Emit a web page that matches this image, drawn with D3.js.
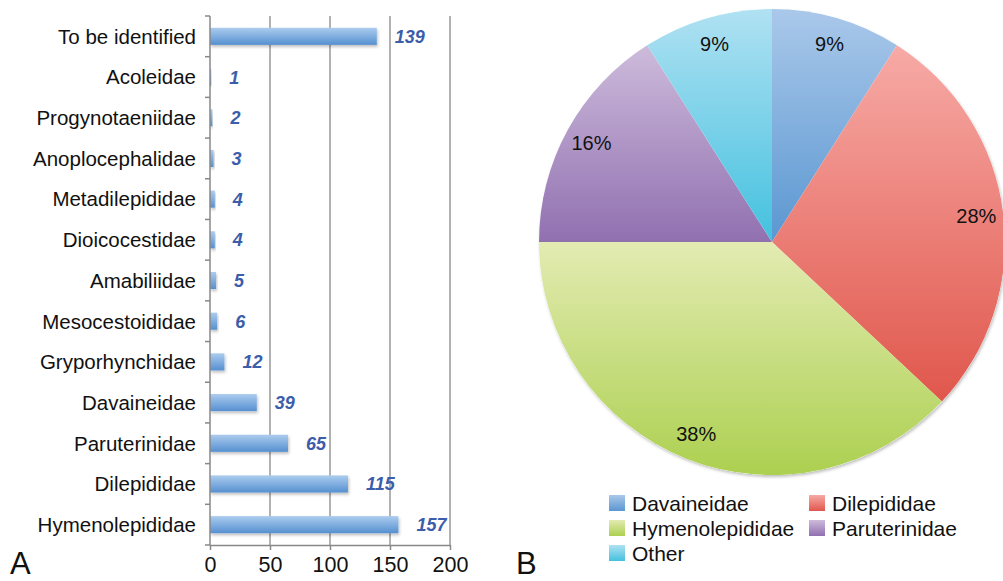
<!DOCTYPE html>
<html>
  <head>
    <style>
      body {
        margin: 0;
        background: #fff;
        font-family: "Liberation Sans", Arial, sans-serif;
      }
      svg text { fill: #111; }
      .grid line { stroke: #999; stroke-width: 1.5px; }
      .value-label { fill: #3c5daa !important; font-weight: bold; font-style: italic; font-size: 18px; }
    </style>
  </head>
  <body>
    <svg width="1003" height="581"></svg>
    <script src="https://d3js.org/d3.v7.min.js"></script>
    <script>
    // bar chart data (panel A)
    var families = ["To be identified", "Acoleidae", "Progynotaeniidae", "Anoplocephalidae",
      "Metadilepididae", "Dioicocestidae", "Amabiliidae", "Mesocestoididae",
      "Gryporhynchidae", "Davaineidae", "Paruterinidae", "Dilepididae", "Hymenolepididae"];
    var counts = [139, 1, 2, 3, 4, 4, 5, 6, 12, 39, 65, 115, 157];
    var x_ticks = [0, 50, 100, 150, 200];

    // pie chart data (panel B)
    var pie_names = ["Davaineidae", "Dilepididae", "Hymenolepididae", "Paruterinidae", "Other"];
    var pie_share = [9, 28, 38, 16, 9];
    var pie_top = ["#aac8ea", "#f7aaa6", "#e3ebb2", "#cdbbdb", "#b0e1f2"];
    var pie_bottom = ["#5a97d1", "#e0574c", "#acd050", "#9170b0", "#43c1df"];

    var svg = d3.select("svg");
    var defs = svg.append("defs");

    // gradients
    var barGrad = defs.append("linearGradient").attr("id", "barGrad")
        .attr("x1", 0).attr("y1", 0).attr("x2", 0).attr("y2", 1);
    barGrad.append("stop").attr("offset", "0%").attr("stop-color", "#acccef");
    barGrad.append("stop").attr("offset", "100%").attr("stop-color", "#5590d0");

    pie_names.forEach(function(n, i) {
      var g = defs.append("linearGradient").attr("id", "pg" + i)
          .attr("gradientUnits", "userSpaceOnUse")
          .attr("x1", 0).attr("y1", -233).attr("x2", 0).attr("y2", 233);
      g.append("stop").attr("offset", "0%").attr("stop-color", pie_top[i]);
      g.append("stop").attr("offset", "100%").attr("stop-color", pie_bottom[i]);
      var lg = defs.append("linearGradient").attr("id", "lg" + i)
          .attr("x1", 0).attr("y1", 0).attr("x2", 0).attr("y2", 1);
      lg.append("stop").attr("offset", "0%").attr("stop-color", pie_top[i]);
      lg.append("stop").attr("offset", "100%").attr("stop-color", pie_bottom[i]);
    });

    var shadow = defs.append("filter").attr("id", "shadow")
        .attr("x", "-10%").attr("y", "-10%").attr("width", "130%").attr("height", "160%");
    shadow.append("feDropShadow").attr("dx", 1).attr("dy", 2).attr("stdDeviation", 1.5)
        .attr("flood-color", "#000").attr("flood-opacity", 0.25);

    // ---------- Panel A ----------
    var margin = {left: 210, top: 16};
    var w = 240, h = 529;
    var x = d3.scaleLinear().domain([0, 200]).range([0, w]);
    var y = d3.scaleBand().domain(families).range([0, h]).paddingInner(0.58).paddingOuter(0.29);
    var yb = d3.scaleBand().domain(families).range([0, h]);

    var gA = svg.append("g").attr("transform", "translate(" + [margin.left, margin.top] + ")");

    gA.append("g").attr("class", "grid")
      .selectAll("line").data(x_ticks.slice(1)).enter().append("line")
        .attr("x1", d => x(d)).attr("x2", d => x(d))
        .attr("y1", 0).attr("y2", h);

    gA.selectAll(".bar").data(families).enter().append("rect")
        .attr("class", "bar")
        .attr("x", 0)
        .attr("y", d => y(d))
        .attr("width", (d, i) => x(counts[i]))
        .attr("height", y.bandwidth())
        .attr("fill", "url(#barGrad)")
        .attr("filter", "url(#shadow)");

    gA.selectAll(".value-label").data(families).enter().append("text")
        .attr("class", "value-label")
        .attr("x", (d, i) => x(counts[i]) + 18)
        .attr("y", d => y(d) + y.bandwidth() / 2)
        .attr("dy", "0.36em")
        .text((d, i) => counts[i]);

    // category labels
    gA.selectAll(".cat").data(families).enter().append("text")
        .attr("class", "cat")
        .attr("x", -14)
        .attr("y", d => y(d) + y.bandwidth() / 2)
        .attr("dy", "0.36em")
        .attr("text-anchor", "end")
        .style("font-size", "20.5px")
        .text(d => d);

    // y axis line with ticks between categories
    gA.append("line").attr("x1", 0).attr("x2", 0).attr("y1", 0).attr("y2", h)
        .attr("stroke", "#888").attr("stroke-width", 1.5);
    gA.selectAll(".ytick").data(families.concat(["end"])).enter().append("line")
        .attr("x1", -5).attr("x2", 0)
        .attr("y1", (d, i) => i * yb.step()).attr("y2", (d, i) => i * yb.step())
        .attr("stroke", "#888").attr("stroke-width", 1.5);

    // x axis
    var xAxis = gA.append("g").attr("transform", "translate(0," + h + ")")
        .call(d3.axisBottom(x).tickValues(x_ticks).tickSize(5).tickSizeOuter(0));
    xAxis.select(".domain").attr("stroke", "#888").attr("stroke-width", 1.5);
    xAxis.selectAll(".tick line").attr("stroke", "#888").attr("stroke-width", 1.5);
    xAxis.selectAll("text").attr("fill", "#111").style("font-size", "21.5px")
        .style("font-family", "'Liberation Sans', Arial, sans-serif")
        .attr("y", 27).attr("dy", 0);

    // panel letters
    svg.append("text").attr("x", 10).attr("y", 574).style("font-size", "31px").text("A");
    svg.append("text").attr("x", 516).attr("y", 574).style("font-size", "31px").text("B");

    // ---------- Panel B ----------
    var cx = 772, cy = 242, r = 233;
    var gB = svg.append("g").attr("transform", "translate(" + [cx, cy] + ")");
    var pie = d3.pie().sort(null).value(d => d);
    var arcs = pie(pie_share);
    var arc = d3.arc().innerRadius(0).outerRadius(r);
    var labelArc = d3.arc().innerRadius(206).outerRadius(206);

    gB.append("circle").attr("r", r).attr("fill", "#fff").attr("filter", "url(#shadow)");

    // fit each gradient to the vertical span of its slice
    arcs.forEach(function(a, i) {
      var ys = [0];
      for (var t = 0; t <= 60; t++) {
        var ang = a.startAngle + (a.endAngle - a.startAngle) * t / 60;
        ys.push(-r * Math.cos(ang));
      }
      d3.select("#pg" + i).attr("y1", d3.min(ys)).attr("y2", d3.max(ys));
    });

    gB.selectAll(".slice").data(arcs).enter().append("path")
        .attr("class", "slice")
        .attr("d", arc)
        .attr("fill", (d, i) => "url(#pg" + i + ")");

    gB.selectAll(".pct").data(arcs).enter().append("text")
        .attr("transform", d => "translate(" + labelArc.centroid(d) + ")")
        .attr("text-anchor", "middle")
        .attr("dy", "0.36em")
        .style("font-size", "20px")
        .text(d => d.data + "%");

    // legend
    var legend = svg.append("g");
    var items = legend.selectAll("g").data(pie_names).enter().append("g")
        .attr("transform", (d, i) => "translate(" + [609 + (i % 2) * 200, 495 + Math.floor(i / 2) * 25] + ")");
    items.append("rect").attr("width", 16).attr("height", 16)
        .attr("fill", (d, i) => "url(#lg" + i + ")");
    items.append("text").attr("x", 23).attr("y", 8).attr("dy", "0.36em")
        .style("font-size", "21px").text(d => d);
    </script>
  </body>
</html>
